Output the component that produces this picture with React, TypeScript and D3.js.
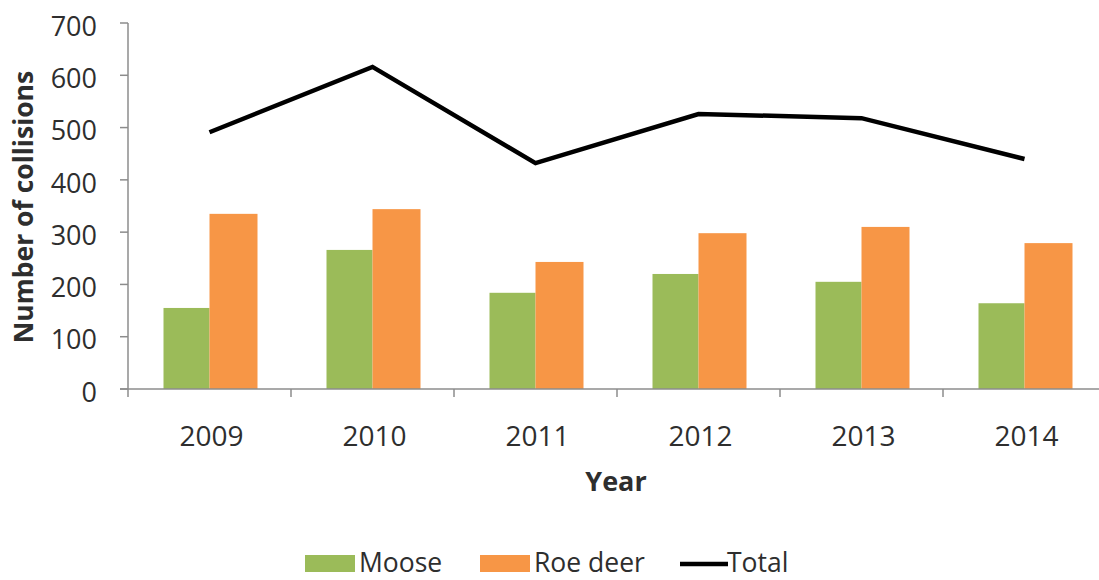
import React from "react";
import * as d3 from "d3";

const years = ["2009", "2010", "2011", "2012", "2013", "2014"];
const moose = [155, 266, 184, 220, 205, 164];
const roeDeer = [335, 344, 243, 298, 310, 279];
const total = [491, 616, 432, 526, 518, 440];
const yTicks = [0, 100, 200, 300, 400, 500, 600, 700];

const W = 1099;
const H = 580;
const left = 128;
const top = 23;
const bottom = 389;
const right = left + 6 * 163;
const GREEN = "#9BBB59";
const ORANGE = "#F79646";
const AXIS = "#8c8c8c";
const FONT = "'Open Sans', sans-serif";
const TXT = "#2e2e2e";

export default function App() {
  const x = d3.scaleBand<string>().domain(years).range([left, right]);
  const y = d3.scaleLinear().domain([0, 700]).range([bottom, top]);
  const barW = 46;
  const line = d3
    .line<number>()
    .x((_, i) => (x(years[i]) as number) + x.bandwidth() / 2)
    .y((d) => y(d));

  return (
    <svg width={W} height={H} style={{ position: "absolute", left: 0, top: 0, background: "#fff" }}>
      {/* y axis */}
      <line x1={left} x2={left} y1={top} y2={bottom} stroke={AXIS} strokeWidth={1.5} />
      {yTicks.map((t) => (
        <g key={t}>
          <line x1={left - 8} x2={left} y1={y(t)} y2={y(t)} stroke={AXIS} strokeWidth={1.5} />
          <text x={97} y={y(t)} dy="0.47em" textAnchor="end" fontFamily={FONT} fontSize={27} fill={TXT}>
            {t}
          </text>
        </g>
      ))}
      {/* bars */}
      {years.map((yr, i) => {
        const cx = (x(yr) as number) + x.bandwidth() / 2;
        return (
          <g key={yr}>
            <rect x={cx - barW} y={y(moose[i])} width={barW} height={bottom - y(moose[i])} fill={GREEN} />
            <rect x={cx} y={y(roeDeer[i])} width={barW + 2} height={bottom - y(roeDeer[i])} fill={ORANGE} />
          </g>
        );
      })}
      {/* x axis */}
      <line x1={left - 8} x2={W} y1={bottom} y2={bottom} stroke={AXIS} strokeWidth={1.5} />
      {years.map((yr) => (
        <line key={"t" + yr} x1={x(yr) as number} x2={x(yr) as number} y1={bottom} y2={bottom + 8} stroke={AXIS} strokeWidth={1.5} />
      ))}
      {years.map((yr) => (
        <text
          key={"l" + yr}
          x={(x(yr) as number) + x.bandwidth() / 2 + 2}
          y={446}
          textAnchor="middle"
          fontFamily={FONT}
          fontSize={28}
          fill={TXT}
        >
          {yr}
        </text>
      ))}
      {/* total line */}
      <path d={line(total) || ""} fill="none" stroke="#000" strokeWidth={4.5} strokeLinejoin="miter" />
      {/* axis titles */}
      <text
        transform={`translate(23,207) rotate(-90)`}
        textAnchor="middle"
        dy="0.36em"
        fontFamily={FONT}
        fontWeight="bold"
        fontSize={26.5}
        fill={TXT}
      >
        Number of collisions
      </text>
      <text x={616} y={491} textAnchor="middle" fontFamily={FONT} fontWeight="bold" fontSize={27} fill={TXT}>
        Year
      </text>
      {/* legend */}
      <rect x={305} y={555} width={50} height={17} fill={GREEN} />
      <text x={359} y={572} fontFamily={FONT} fontSize={26.5} fill={TXT}>
        Moose
      </text>
      <rect x={480} y={555} width={50} height={17} fill={ORANGE} />
      <text x={534} y={572} fontFamily={FONT} fontSize={26.5} fill={TXT}>
        Roe deer
      </text>
      <line x1={680} x2={728} y1={564} y2={564} stroke="#000" strokeWidth={4.5} />
      <text x={727} y={572} fontFamily={FONT} fontSize={26.5} fill={TXT}>
        Total
      </text>
    </svg>
  );
}
